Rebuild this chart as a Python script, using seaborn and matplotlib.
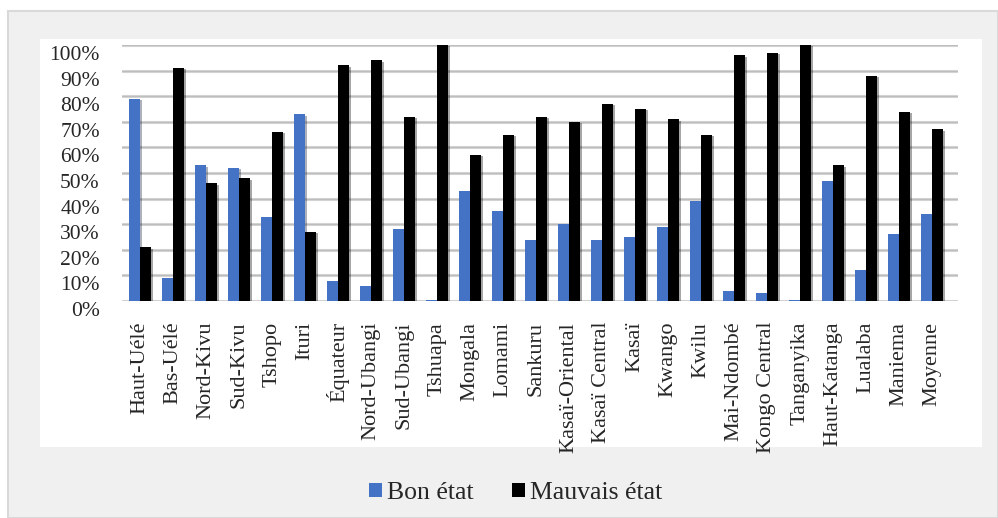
import numpy as np
import pandas as pd
import seaborn as sns
import matplotlib
matplotlib.use("Agg")
import matplotlib.pyplot as plt
from matplotlib.patches import Rectangle
from matplotlib.transforms import ScaledTranslation
import matplotlib.patheffects as pe

provinces = ["Haut-Uélé", "Bas-Uélé", "Nord-Kivu", "Sud-Kivu", "Tshopo", "Ituri",
             "Équateur", "Nord-Ubangi", "Sud-Ubangi", "Tshuapa", "Mongala", "Lomami",
             "Sankuru", "Kasaï-Oriental", "Kasaï Central", "Kasaï", "Kwango", "Kwilu",
             "Mai-Ndombé", "Kongo Central", "Tanganyika", "Haut-Katanga", "Lualaba",
             "Maniema", "Moyenne"]
bon_etat = [79, 9, 53, 52, 33, 73, 8, 6, 28, 0.5, 43, 35, 24, 30, 24, 25, 29, 39,
            4, 3, 0.5, 47, 12, 26, 34]
mauvais_etat = [21, 91, 46, 48, 66, 27, 92, 94, 72, 100, 57, 65, 72, 70, 77, 75, 71, 65,
                96, 97, 100, 53, 88, 74, 67]
series_names = ["Bon état", "Mauvais état"]
colors = ["#4472C4", "#000000"]
yticks = list(range(0, 101, 10))
ytick_labels = [f"{v}%" for v in yticks]

df = pd.DataFrame({
    "Province": provinces * 2,
    "Valeur": bon_etat + mauvais_etat,
    "Série": [series_names[0]] * len(provinces) + [series_names[1]] * len(provinces),
})

sns.set_theme(style="white")
plt.rcParams["font.family"] = ["Liberation Serif", "DejaVu Serif"]

W, H = 998, 518
fig = plt.figure(figsize=(W / 100, H / 100), dpi=100)
fig.patch.set_facecolor("white")
fig.patches.append(Rectangle((8 / W, 0), (W - 8) / W, (H - 11) / H, transform=fig.transFigure,
                             facecolor="#f0f0f0", edgecolor="#d9d9d9", linewidth=1.5, zorder=-3))
fig.patches.append(Rectangle((40 / W, 1 - 447 / H), (982 - 40) / W, (447 - 39) / H,
                             transform=fig.transFigure, facecolor="white", edgecolor="none", zorder=-2))

ax = fig.add_axes([122 / W, 1 - 301 / H, (958 - 122) / W, (301 - 45) / H])
ax.set_facecolor("none")

sns.barplot(data=df, x="Province", y="Valeur", hue="Série", palette=colors,
            width=0.68, gap=0, ax=ax, legend=False, saturation=1, errorbar=None)

for p in ax.patches:
    p.set_path_effects([pe.SimplePatchShadow(offset=(1.5, -1), alpha=0.35), pe.Normal()])
    p.set_linewidth(0)

ax.set_ylim(0, 100)
ax.set_xlim(-0.545, 24.79)
ax.set_yticks(yticks)
ax.set_yticklabels(ytick_labels, fontsize=15.5)
for y in yticks:
    ax.axhline(y, color="#d4d4d4", linewidth=2.2, zorder=0)
    ax.axhline(y, color="#bdbdbd", linewidth=0.8, zorder=0)
ax.set_xlabel("")
ax.set_ylabel("")
ax.tick_params(axis="y", length=0, pad=16)
ax.tick_params(axis="x", length=0, pad=15)
plt.setp(ax.get_xticklabels(), rotation=90, fontsize=16)
off = ScaledTranslation(0, -0.08, fig.dpi_scale_trans)
for lab in ax.get_yticklabels():
    lab.set_transform(lab.get_transform() + off)
for s in ax.spines.values():
    s.set_visible(False)

handles = [Rectangle((0, 0), 1, 1, facecolor=c, edgecolor="none") for c in colors]
fig.legend(handles, series_names, loc="center", bbox_to_anchor=(516 / W, 1 - 493 / H),
           ncol=2, frameon=False, fontsize=18.5, handlelength=0.5, handleheight=0.5,
           handletextpad=0.2, columnspacing=1.5)

fig.savefig("out.png", dpi=100, facecolor=fig.get_facecolor())
